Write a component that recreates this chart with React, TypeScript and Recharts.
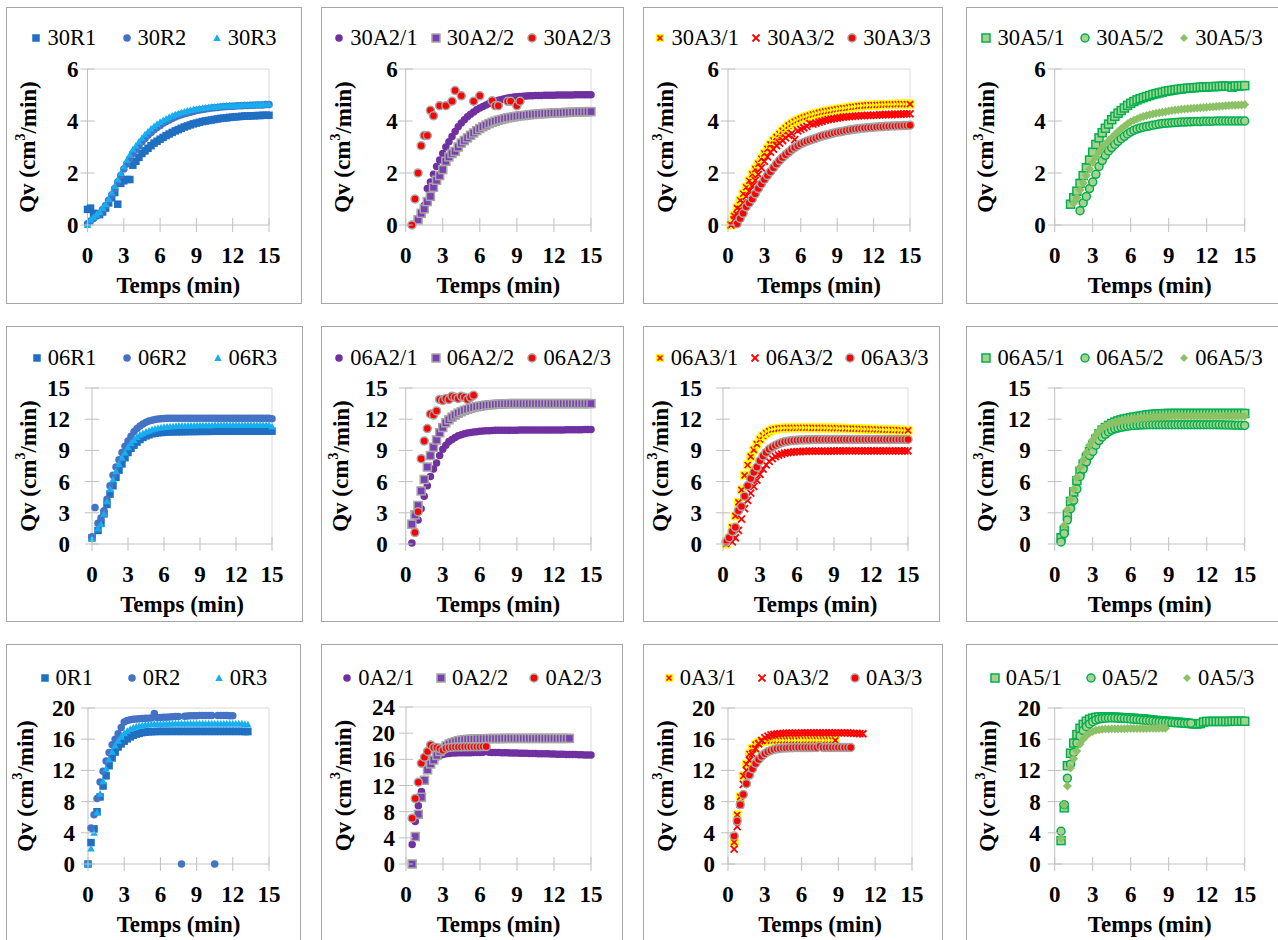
import React from 'react';
import { ScatterChart, Scatter, XAxis, YAxis, ReferenceLine } from 'recharts';

const FONT = '"Liberation Serif", "Times New Roman", serif';
const AXIS = '#bfbfbf';
const EDGE = '#d9d9d9';
const _ = null;

// sampling times (min), shared by every series; a series value at index i belongs to TIME[i]
const TIME = [
  0, 0.25, 0.5, 0.75, 1, 1.25, 1.5, 1.75, 2, 2.25, 2.5, 2.75, 3, 3.25, 3.5, 3.75,
  4, 4.25, 4.5, 4.75, 5, 5.25, 5.5, 5.75, 6, 6.25, 6.5, 6.75, 7, 7.25, 7.5, 7.75,
  8, 8.25, 8.5, 8.75, 9, 9.25, 9.5, 9.75, 10, 10.25, 10.5, 10.75, 11, 11.25, 11.5, 11.75,
  12, 12.25, 12.5, 12.75, 13, 13.25, 13.5, 13.75, 14, 14.25, 14.5, 14.75, 15,
];
const X_TICKS = [0, 3, 6, 9, 12, 15];
const Y_TICKS_6 = [0, 2, 4, 6];
const Y_TICKS_15 = [0, 3, 6, 9, 12, 15];
const Y_TICKS_20 = [0, 4, 8, 12, 16, 20];
const Y_TICKS_24 = [0, 4, 8, 12, 16, 20, 24];

// ---- row 1 : 30 ----
const q30R1 = [
  0.6, 0.65, 0.45, 0.4, 0.4, 0.5, 0.65, 0.85,
  1.05, 1.25, 0.8, 1.6, 1.7, 1.75, 1.75, 2.3,
  2.45, 2.6, 2.75, 2.85, 2.95, 3.05, 3.15, 3.22,
  3.3, 3.37, 3.44, 3.5, 3.56, 3.62, 3.67, 3.72,
  3.77, 3.81, 3.85, 3.89, 3.92, 3.95, 3.98, 4.0,
  4.02, 4.04, 4.06, 4.08, 4.1, 4.11, 4.12, 4.14,
  4.15, 4.16, 4.17, 4.18, 4.19, 4.19, 4.2, 4.2,
  4.21, 4.21, 4.22, 4.22, 4.22,
];
const q30R2 = [
  0.05, 0.15, 0.25, 0.35, 0.45, 0.6, 0.75, 0.95,
  1.15, 1.4, 1.65, 1.9, 2.15, 2.35, 2.55, 2.75,
  2.9, 3.05, 3.2, 3.33, 3.45, 3.56, 3.66, 3.75,
  3.83, 3.91, 3.98, 4.04, 4.1, 4.15, 4.2, 4.24,
  4.28, 4.31, 4.34, 4.37, 4.4, 4.42, 4.44, 4.46,
  4.48, 4.5, 4.51, 4.52, 4.54, 4.55, 4.56, 4.57,
  4.57, 4.58, 4.59, 4.59, 4.6, 4.6, 4.61, 4.61,
  4.62, 4.62, 4.62, 4.63, 4.63,
];
const q30R3 = [
  0, 0.2, 0.3, 0.4, 0.5, 0.65, 0.8, 1.0,
  1.25, 1.5, 1.75, 2.0, 2.25, 2.5, 2.7, 2.9,
  3.05, 3.2, 3.35, 3.48, 3.6, 3.7, 3.8, 3.88,
  3.96, 4.03, 4.09, 4.15, 4.2, 4.25, 4.29, 4.33,
  4.36, 4.39, 4.42, 4.44, 4.46, 4.48, 4.5, 4.51,
  4.53, 4.54, 4.55, 4.56, 4.57, 4.58, 4.59, 4.59,
  4.6, 4.6, 4.61, 4.61, 4.62, 4.62, 4.62, 4.63,
  4.63, 4.63, 4.64, 4.64, 4.64,
];
const q30A2_1 = [
  _, _, _, _, 0.2, 0.45, 0.75, 1.4,
  1.65, 1.95, 2.25, 2.5, 2.75, 3.0, 3.2, 3.4,
  3.6, 3.78, 3.92, 4.05, 4.16, 4.26, 4.35, 4.43,
  4.5, 4.56, 4.62, 4.67, 4.72, 4.76, 4.8, 4.83,
  4.86, 4.88, 4.9, 4.92, 4.93, 4.94, 4.95, 4.96,
  4.97, 4.97, 4.98, 4.98, 4.98, 4.99, 4.99, 4.99,
  4.99, 5.0, 5.0, 5.0, 5.0, 5.0, 5.0, 5.01,
  5.01, 5.01, 5.01, 5.01, 5.01,
];
const q30A2_2 = [
  _, _, _, _, 0.2, 0.45, 0.62, 0.9,
  1.1, 1.45, 1.72, 1.9, 2.13, 2.45, 2.62, 2.75,
  2.83, 3.0, 3.15, 3.25, 3.35, 3.45, 3.54, 3.63,
  3.71, 3.78, 3.84, 3.9, 3.95, 3.99, 4.03, 4.06,
  4.09, 4.12, 4.14, 4.16, 4.18, 4.2, 4.21, 4.22,
  4.24, 4.25, 4.26, 4.27, 4.28, 4.29, 4.29, 4.3,
  4.31, 4.31, 4.32, 4.32, 4.33, 4.33, 4.34, 4.34,
  4.35, 4.35, 4.35, 4.36, 4.36,
];
const q30A2_3 = [
  _, _, 0, 1.0, 2.0, 3.05, 3.44, 3.44,
  4.41, 4.2, _, 4.59, _, 4.59, _, 4.76,
  5.17, _, 4.97, _, _, _, 4.76, _,
  4.97, _, _, _, 4.78, 4.59, 4.59, _,
  _, 4.76, 4.76, _, 4.59, 4.76,
];
const q30A3_1 = [
  _, 0, 0.35, 0.65, 0.95, 1.2, 1.45, 1.7,
  1.95, 2.15, 2.35, 2.55, 2.75, 2.93, 3.1, 3.25,
  3.38, 3.5, 3.62, 3.72, 3.82, 3.9, 3.97, 4.03,
  4.08, 4.13, 4.17, 4.21, 4.25, 4.28, 4.31, 4.34,
  4.37, 4.39, 4.41, 4.43, 4.45, 4.47, 4.49, 4.5,
  4.52, 4.54, 4.55, 4.57, 4.58, 4.59, 4.6, 4.61,
  4.61, 4.62, 4.62, 4.63, 4.63, 4.64, 4.64, 4.64,
  4.65, 4.65, 4.65, 4.65, 4.65,
];
const q30A3_2 = [
  _, 0, 0.2, 0.4, 0.6, 0.85, 1.1, 1.3,
  1.5, 1.72, 1.95, 2.2, 2.45, 2.62, 2.8, 2.92,
  3.05, 3.15, 3.25, 3.35, 3.45, 3.52, 3.28, 3.62,
  3.68, 3.74, 3.79, 3.9, 3.88, 3.92, 3.96, 3.99,
  4.02, 4.05, 4.07, 4.09, 4.11, 4.13, 4.15, 4.16,
  4.17, 4.18, 4.19, 4.2, 4.21, 4.21, 4.22, 4.22,
  4.23, 4.23, 4.24, 4.24, 4.25, 4.25, 4.25, 4.26,
  4.26, 4.26, 4.27, 4.27, 4.27,
];
const q30A3_3 = [
  _, _, _, 0.05, 0.25, 0.45, 0.7, 0.85,
  1.0, 1.2, 1.4, 1.58, 1.75, 1.9, 2.05, 2.2,
  2.35, 2.48, 2.6, 2.7, 2.8, 2.9, 2.98, 3.05,
  3.12, 3.17, 3.22, 3.26, 3.3, 3.34, 3.38, 3.42,
  3.45, 3.48, 3.51, 3.54, 3.57, 3.59, 3.61, 3.63,
  3.65, 3.67, 3.69, 3.7, 3.72, 3.73, 3.74, 3.75,
  3.76, 3.77, 3.78, 3.78, 3.8, 3.8, 3.81, 3.81,
  3.82, 3.82, 3.83, 3.83, 3.84,
];
const q30A5_1 = [
  _, _, _, _, _, 0.8, 1.05, 1.3,
  1.6, 1.9, 2.2, 2.5, 2.8, 3.1, 3.35, 3.55,
  3.72, 3.88, 4.05, 4.18, 4.3, 4.4, 4.5, 4.6,
  4.68, 4.75, 4.81, 4.86, 4.9, 4.94, 4.98, 5.02,
  5.05, 5.08, 5.11, 5.14, 5.16, 5.18, 5.2, 5.22,
  5.23, 5.25, 5.26, 5.27, 5.28, 5.29, 5.3, 5.31,
  5.31, 5.32, 5.32, 5.33, 5.33, 5.34, 5.34, 5.34,
  5.3, 5.35, 5.35, 5.36, 5.36,
];
const q30A5_2 = [
  _, _, _, _, _, _, _, _,
  0.55, 0.85, 1.1, 1.4, 1.65, 1.95, 2.25, 2.48,
  2.68, 2.85, 2.98, 3.1, 3.22, 3.32, 3.41, 3.5,
  3.58, 3.64, 3.69, 3.73, 3.76, 3.79, 3.81, 3.84,
  3.86, 3.88, 3.9, 3.91, 3.92, 3.93, 3.94, 3.95,
  3.96, 3.96, 3.97, 3.97, 3.98, 3.98, 3.98, 3.99,
  3.99, 3.99, 3.99, 4.0, 4.0, 4.0, 4.0, 4.0,
  4.0, 4.0, 4.0, 4.0, 4.0,
];
const q30A5_3 = [
  _, _, _, _, _, _, 0.85, 1.05,
  1.35, 1.62, 1.9, 2.15, 2.4, 2.62, 2.82, 2.98,
  3.12, 3.24, 3.36, 3.48, 3.6, 3.7, 3.8, 3.89,
  3.97, 4.03, 4.08, 4.13, 4.17, 4.21, 4.24, 4.27,
  4.3, 4.32, 4.34, 4.36, 4.38, 4.4, 4.42, 4.43,
  4.45, 4.46, 4.47, 4.48, 4.49, 4.5, 4.51, 4.52,
  4.53, 4.54, 4.55, 4.56, 4.57, 4.58, 4.59, 4.6,
  4.61, 4.61, 4.62, 4.62, 4.63,
];

// ---- row 2 : 06 ----
const q06R1 = [
  0.6, _, 1.3, 2.0, 2.9, 3.8, 4.8, 5.6,
  6.4, 7.1, 7.7, 8.3, 8.8, 9.2, 9.5, 9.8,
  10.05, 10.25, 10.4, 10.5, 10.6, 10.65, 10.7, 10.72,
  10.75, 10.77, 10.78, 10.79, 10.8, 10.8, 10.8, 10.81,
  10.81, 10.82, 10.82, 10.82, 10.83, 10.83, 10.83, 10.83,
  10.84, 10.84, 10.84, 10.84, 10.84, 10.85, 10.85, 10.85,
  10.85, 10.85, 10.85, 10.85, 10.85, 10.85, 10.85, 10.85,
  10.85, 10.85, 10.85, 10.85, 10.85,
];
const q06R2 = [
  0.7, 3.5, 2.0, 2.5, 3.2, 4.3, 5.6, 6.6,
  7.4, 8.1, 8.8, 9.4, 9.9, 10.35, 10.8, 11.1,
  11.35, 11.55, 11.7, 11.82, 11.9, 11.97, 12.02, 12.05,
  12.07, 12.08, 12.08, 12.09, 12.09, 12.1, 12.1, 12.1,
  12.1, 12.1, 12.1, 12.1, 12.1, 12.1, 12.1, 12.1,
  12.1, 12.1, 12.1, 12.1, 12.1, 12.1, 12.1, 12.1,
  12.1, 12.1, 12.1, 12.1, 12.1, 12.1, 12.1, 12.1,
  12.1, 12.1, 12.1, 12.1, 12.05,
];
const q06R3 = [
  0.5, _, 1.5, 1.9, 2.9, 4.1, 5.3, 6.2,
  7.0, 7.7, 8.3, 8.8, 9.3, 9.7, 10.0, 10.3,
  10.5, 10.65, 10.8, 10.9, 11.0, 11.08, 11.15, 11.2,
  11.25, 11.28, 11.3, 11.33, 11.35, 11.36, 11.37, 11.38,
  11.4, 11.4, 11.4, 11.41, 11.42, 11.42, 11.43, 11.43,
  11.43, 11.44, 11.44, 11.44, 11.44, 11.45, 11.45, 11.45,
  11.45, 11.45, 11.45, 11.45, 11.45, 11.45, 11.45, 11.45,
  11.45, 11.45, 11.45, 11.45, 11.3,
];
const q06A2_1 = [
  _, _, 0.1, 1.2, 2.3, 3.4, 4.6, 5.6,
  6.5, 7.2, 7.8, 8.5, 9.1, 9.5, 9.85, 10.05,
  10.25, 10.4, 10.5, 10.6, 10.67, 10.72, 10.77, 10.8,
  10.83, 10.86, 10.88, 10.9, 10.92, 10.93, 10.93, 10.93,
  10.94, 10.94, 10.94, 10.94, 10.94, 10.95, 10.95, 10.95,
  10.95, 10.95, 10.95, 10.95, 10.96, 10.96, 10.96, 10.96,
  10.96, 10.97, 10.97, 10.97, 10.98, 10.98, 10.98, 10.98,
  10.99, 10.99, 11.0, 11.0, 11.0,
];
const q06A2_2 = [
  _, _, 1.9, 2.8, 3.7, 5.1, 6.2, 7.4,
  8.5, 9.3, 10.0, 10.7, 11.2, 11.65, 11.95, 12.2,
  12.4, 12.58, 12.72, 12.85, 12.95, 13.05, 13.13, 13.2,
  13.25, 13.3, 13.35, 13.38, 13.4, 13.43, 13.45, 13.47,
  13.48, 13.49, 13.5, 13.5, 13.5, 13.5, 13.5, 13.5,
  13.5, 13.5, 13.5, 13.5, 13.5, 13.5, 13.5, 13.5,
  13.5, 13.5, 13.5, 13.5, 13.5, 13.5, 13.5, 13.5,
  13.5, 13.5, 13.5, 13.5, 13.5,
];
const q06A2_3 = [
  _, _, _, 1.1, 3.1, 8.2, 9.9, 11.1,
  12.5, 12.4, 12.8, 13.9, 13.8, 14.0, 13.9, 14.2,
  14.1, 14.0, 14.2, 14.1, 13.9, 14.1, 14.3,
];
const q06A3_1 = [
  _, 0, 0.6, 1.6, 2.7, 4.0, 5.2, 6.6,
  7.6, 8.4, 9.05, 9.6, 10.05, 10.4, 10.65, 10.85,
  10.98, 11.05, 11.1, 11.13, 11.15, 11.16, 11.17, 11.17,
  11.18, 11.18, 11.18, 11.18, 11.18, 11.17, 11.17, 11.17,
  11.16, 11.16, 11.15, 11.15, 11.14, 11.14, 11.13, 11.12,
  11.12, 11.11, 11.1, 11.09, 11.08, 11.07, 11.06, 11.05,
  11.04, 11.03, 11.02, 11.01, 11.0, 10.99, 10.98, 10.97,
  10.96, 10.95, 10.94, 10.93, 10.92,
];
const q06A3_2 = [
  _, _, _, 0.2, 0.6, 1.3, 2.4, 3.4,
  4.2, 4.9, 5.55, 6.15, 6.7, 7.2, 7.6, 7.95,
  8.2, 8.4, 8.55, 8.65, 8.73, 8.78, 8.82, 8.85,
  8.88, 8.89, 8.9, 8.91, 8.92, 8.92, 8.93, 8.93,
  8.94, 8.94, 8.94, 8.94, 8.95, 8.95, 8.95, 8.95,
  8.95, 8.95, 8.95, 8.95, 8.95, 8.95, 8.95, 8.95,
  8.95, 8.95, 8.95, 8.95, 8.95, 8.95, 8.95, 8.95,
  8.95, 8.95, 8.95, 8.95, 8.95,
];
const q06A3_3 = [
  _, 0.2, 0.6, 1.2, 1.6, 3.2, 3.6, 4.6,
  5.6, 6.3, 6.9, 7.4, 8.0, 8.45, 8.8, 9.1,
  9.3, 9.48, 9.62, 9.73, 9.82, 9.88, 9.93, 9.96,
  9.98, 10.0, 10.01, 10.02, 10.03, 10.03, 10.04, 10.04,
  10.05, 10.05, 10.05, 10.05, 10.05, 10.05, 10.05, 10.05,
  10.05, 10.05, 10.05, 10.05, 10.05, 10.05, 10.05, 10.05,
  10.05, 10.05, 10.05, 10.05, 10.05, 10.05, 10.05, 10.05,
  10.05, 10.05, 10.05, 10.05, 10.05,
];
const q06A5_1 = [
  _, _, 0.6, 1.3, 2.8, 4.1, 5.0, 6.1,
  7.0, 7.7, 8.3, 8.9, 9.5, 10.1, 10.6, 10.95,
  11.2, 11.4, 11.58, 11.72, 11.84, 11.94, 12.02, 12.08,
  12.14, 12.2, 12.25, 12.3, 12.35, 12.4, 12.44, 12.47,
  12.5, 12.52, 12.53, 12.54, 12.55, 12.55, 12.55, 12.55,
  12.55, 12.55, 12.55, 12.55, 12.55, 12.55, 12.55, 12.55,
  12.55, 12.55, 12.55, 12.55, 12.55, 12.55, 12.55, 12.55,
  12.55, 12.55, 12.55, 12.55, 12.55,
];
const q06A5_2 = [
  _, _, 0.2, 1.0, 2.3, 3.4, 4.2, 5.3,
  6.5, 7.2, 7.9, 8.5, 8.9, 9.5, 9.95, 10.3,
  10.55, 10.78, 10.95, 11.07, 11.15, 11.22, 11.28, 11.33,
  11.37, 11.4, 11.42, 11.44, 11.45, 11.46, 11.47, 11.47,
  11.47, 11.47, 11.47, 11.47, 11.47, 11.47, 11.47, 11.47,
  11.47, 11.47, 11.47, 11.47, 11.47, 11.47, 11.47, 11.47,
  11.47, 11.47, 11.47, 11.47, 11.46, 11.46, 11.45, 11.45,
  11.44, 11.43, 11.42, 11.41, 11.4,
];
const q06A5_3 = [
  _, _, _, 1.8, 3.3, 4.3, 5.3, 6.4,
  7.4, 8.1, 8.8, 9.5, 10.0, 10.5, 10.9, 11.15,
  11.35, 11.5, 11.6, 11.7, 11.78, 11.84, 11.9, 11.94,
  11.98, 12.02, 12.05, 12.08, 12.11, 12.14, 12.16, 12.18,
  12.2, 12.22, 12.24, 12.25, 12.27, 12.28, 12.28, 12.28,
  12.28, 12.28, 12.28, 12.28, 12.28, 12.28, 12.28, 12.28,
  12.28, 12.28, 12.28, 12.28, 12.28, 12.28, 12.28, 12.28,
  12.28, 12.28, 12.28, 12.28, 12.28,
];

// ---- row 3 : 0 ----
const q0R1 = [
  0, 2.75, 4.5, 6.7, 8.6, 10.0, 11.3, 12.6,
  13.6, 14.35, 15.0, 15.4, 15.75, 16.05, 16.3, 16.5,
  16.65, 16.75, 16.85, 16.9, 16.95, 16.97, 16.98, 17.0,
  17.0, 17.0, 17.0, 17.0, 17.0, 17.0, 17.0, 17.0,
  17.0, 17.0, 17.0, 17.0, 17.0, 17.0, 17.0, 17.0,
  17.0, 17.0, 17.0, 17.0, 17.0, 17.0, 17.0, 17.0,
  17.0, 17.0, 17.0, 17.0, 16.98, 16.97,
];
const q0R2 = [
  0, 4.6, 6.3, 8.4, 10.5, 11.9, 13.2, 14.3,
  15.3, 16.0, 16.7, 17.5, 18.2, 18.4, 18.5, 18.55,
  18.6, 18.62, 18.65, 18.68, 18.7, 18.72, 19.3, 18.75,
  18.78, 18.8, 18.82, 18.85, 18.88, 18.9, 18.92, 0,
  18.95, 18.97, 19.0, 19.0, 19.02, 19.03, 19.04, 19.05,
  19.05, 19.05, 0, 19.05, 19.05, 19.04, 19.03, 19.02,
  19.0,
];
const q0R3 = [
  0, 2.0, 4.0, 6.6, 9.0, 10.6, 12.2, 13.4,
  14.4, 15.2, 15.8, 16.3, 16.75, 17.05, 17.3, 17.5,
  17.62, 17.72, 17.8, 17.85, 17.9, 17.92, 17.94, 17.95,
  17.96, 17.97, 17.98, 17.98, 18.0, 18.0, 18.0, 18.0,
  18.0, 18.0, 18.0, 18.0, 18.0, 18.0, 18.0, 18.0,
  18.0, 18.0, 18.0, 18.0, 18.0, 18.0, 18.0, 18.0,
  18.0, 18.0, 18.0, 18.0, 17.95, 17.9,
];
const q0A2_1 = [
  _, _, 3.0, 6.5, 8.9, 11.1, 12.9, 14.3,
  15.3, 15.9, 16.3, 16.6, 16.75, 16.85, 16.9, 16.95,
  16.97, 17.0, 17.0, 17.0, 17.0, 17.02, 17.03, 17.04,
  17.05, 17.1, 17.2, 17.1, 17.05, 17.04, 17.03, 17.02,
  17.0, 16.99, 16.98, 16.97, 16.95, 16.94, 16.93, 16.92,
  16.9, 16.89, 16.88, 16.87, 16.86, 16.85, 16.84, 16.83,
  16.8, 16.79, 16.78, 16.77, 16.75, 16.74, 16.73, 16.72,
  16.7, 16.69, 16.68, 16.67, 16.65,
];
const q0A2_2 = [
  _, _, 0, 4.2, 7.6, 10.2, 12.8, 14.4,
  15.3, 15.9, 16.6, 17.2, 17.7, 18.05, 18.35, 18.55,
  18.7, 18.85, 18.93, 19.0, 19.05, 19.08, 19.1, 19.12,
  19.14, 19.15, 19.16, 19.17, 19.18, 19.18, 19.18, 19.18,
  19.2, 19.2, 19.2, 19.2, 19.2, 19.2, 19.2, 19.2,
  19.2, 19.2, 19.2, 19.2, 19.2, 19.2, 19.2, 19.2,
  19.2, 19.2, 19.2, 19.2, 19.2, 19.2,
];
const q0A2_3 = [
  _, _, 7.0, 10.0, 12.5, 15.4, 16.3, 17.2,
  18.2, 17.8, 17.8, 17.6, 17.4, 17.7, 17.8, 17.85,
  17.9, 17.9, 17.9, 17.92, 17.92, 17.93, 17.93, 17.94,
  17.94, 17.95, 17.95,
];
const q0A3_1 = [
  _, _, 2.8, 6.3, 8.6, 11.3, 12.8, 14.1,
  14.8, 15.3, 15.55, 15.7, 15.75, 15.8, 15.82, 15.84,
  15.85, 15.85, 15.85, 15.85, 15.85, 15.85, 15.85, 15.85,
  15.86, 15.86, 15.86, 15.86, 15.86, 15.86, 15.86, 15.86,
  15.86, 15.86, 15.86, 15.85,
];
const q0A3_2 = [
  _, _, 1.9, 4.8, 7.6, 10.2, 12.0, 13.3,
  14.1, 14.8, 15.4, 15.85, 16.2, 16.4, 16.55, 16.62,
  16.68, 16.72, 16.75, 16.77, 16.78, 16.78, 16.78, 16.78,
  16.8, 16.8, 16.8, 16.8, 16.8, 16.8, 16.8, 16.8,
  16.8, 16.8, 16.8, 16.8, 16.8, 16.8, 16.8, 16.8,
  16.78, 16.76, 16.74, 16.72, 16.7,
];
const q0A3_3 = [
  _, _, 3.6, 5.5, 7.6, 8.9, 10.3, 11.4,
  12.2, 12.9, 13.4, 13.8, 14.15, 14.4, 14.55, 14.68,
  14.76, 14.82, 14.86, 14.88, 14.9, 14.91, 14.92, 14.92,
  14.93, 14.93, 14.93, 14.93, 14.94, 14.94, 15.1, 14.94,
  14.94, 14.94, 14.94, 14.94, 14.94, 14.94, 14.94, 14.94,
  14.94,
];
const q0A5_1 = [
  _, _, 3.0, 7.2, 12.6, 14.2, 15.5, 16.6,
  17.4, 17.9, 18.3, 18.55, 18.7, 18.8, 18.85, 18.85,
  18.85, 18.85, 18.85, 18.83, 18.8, 18.78, 18.75, 18.72,
  18.7, 18.68, 18.65, 18.62, 18.6, 18.55, 18.5, 18.45,
  18.4, 18.38, 18.35, 18.3, 18.28, 18.25, 18.2, 18.18,
  18.15, 18.1, 18.05, 18.0, 17.95, 17.95, 18.0, 18.2,
  18.28, 18.28, 18.28, 18.28, 18.28, 18.28, 18.28, 18.28,
  18.3, 18.3, 18.3, 18.3, 18.3,
];
const q0A5_2 = [
  _, _, 4.2, 7.6, 11.0, 12.8, 14.3, 15.5,
  16.4, 17.1, 17.6, 17.95, 18.25, 18.45, 18.58, 18.65,
  18.7, 18.72, 18.72, 18.72, 18.7, 18.68, 18.65, 18.62,
  18.6, 18.56, 18.52, 18.48, 18.44, 18.4, 18.36, 18.32,
  18.28, 18.25, 18.22, 18.19, 18.16, 18.13, 18.1, 18.08,
  18.07, 18.06, 18.06, 18.05,
];
const q0A5_3 = [
  _, _, 3.3, 7.6, 10.0, 12.3, 13.5, 14.5,
  15.4, 16.0, 16.45, 16.78, 17.0, 17.15, 17.22, 17.27,
  17.3, 17.32, 17.33, 17.34, 17.34, 17.35, 17.35, 17.36,
  17.36, 17.37, 17.37, 17.38, 17.38, 17.38, 17.39, 17.39,
  17.4, 17.4, 17.4, 17.4,
];

type Mark = { kind: string; fill: string; stroke?: string; sw?: number; size: number };

const MK: Record<string, Mark> = {
  rSquare: { kind: 'square', fill: '#1f6fc2', size: 7.5 },
  rCircle: { kind: 'circle', fill: '#4472c4', size: 7.5 },
  rTriangle: { kind: 'triangle', fill: '#17aef0', size: 7.5 },
  purpleDot: { kind: 'circle', fill: '#7030a0', size: 7.5 },
  purpleSquare: { kind: 'square', fill: '#7a3fb0', stroke: '#a6a6a6', sw: 1.5, size: 8 },
  redDot: { kind: 'circle', fill: '#ff0000', stroke: '#a6a6a6', sw: 1.5, size: 8 },
  yellowX: { kind: 'xsquare', fill: '#ffff00', stroke: '#ff0000', size: 9 },
  redX: { kind: 'cross', fill: 'none', stroke: '#ff0000', size: 7 },
  greenSquare: { kind: 'square', fill: '#a9d18e', stroke: '#00b050', sw: 1.5, size: 8 },
  greenCircle: { kind: 'circle', fill: '#a9d18e', stroke: '#00b050', sw: 1.5, size: 8 },
  greenDiamond: { kind: 'diamond', fill: '#8cc265', size: 9 },
};

function Marker({ cx, cy, m }: { cx: number; cy: number; m: Mark }) {
  if (cx == null || cy == null) return null;
  const r = m.size / 2;
  const stroke = m.stroke || 'none';
  const sw = m.sw || 0;
  switch (m.kind) {
    case 'square':
      return <rect x={cx - r} y={cy - r} width={m.size} height={m.size} fill={m.fill} stroke={stroke} strokeWidth={sw} />;
    case 'circle':
      return <circle cx={cx} cy={cy} r={r} fill={m.fill} stroke={stroke} strokeWidth={sw} />;
    case 'triangle':
      return <polygon points={`${cx},${cy - r} ${cx + r},${cy + r * 0.8} ${cx - r},${cy + r * 0.8}`} fill={m.fill} />;
    case 'diamond':
      return <polygon points={`${cx},${cy - r} ${cx + r},${cy} ${cx},${cy + r} ${cx - r},${cy}`} fill={m.fill} />;
    case 'cross':
      return (
        <g stroke={m.stroke} strokeWidth={1.8}>
          <line x1={cx - r} y1={cy - r} x2={cx + r} y2={cy + r} />
          <line x1={cx - r} y1={cy + r} x2={cx + r} y2={cy - r} />
        </g>
      );
    case 'xsquare':
      return (
        <g>
          <rect x={cx - r} y={cy - r} width={m.size} height={m.size} fill={m.fill} />
          <g stroke={m.stroke} strokeWidth={1.6}>
            <line x1={cx - r + 1.5} y1={cy - r + 1.5} x2={cx + r - 1.5} y2={cy + r - 1.5} />
            <line x1={cx - r + 1.5} y1={cy + r - 1.5} x2={cx + r - 1.5} y2={cy - r + 1.5} />
          </g>
        </g>
      );
    default:
      return null;
  }
}

const toPoints = (values: (number | null)[]) =>
  values
    .map((q, i) => (q == null ? null : { t: TIME[i], q }))
    .filter((p) => p !== null);

type Series = { name: string; values: (number | null)[]; mk: Mark };
type PanelDef = {
  box: number[]; // left, top, right, bottom (page px)
  plot: number[]; // left, right, top, bottom (page px)
  yMax: number;
  yTicks: number[];
  tickGap: number;
  titleOff: number;
  legendY: number;
  series: Series[];
};

// the last column and the last row run past the picture edge, as in the source
const PANELS: PanelDef[] = [
  { box: [6, 7, 302, 304], plot: [87.5, 269, 69, 225], yMax: 6, yTicks: Y_TICKS_6, tickGap: 9, titleOff: 60, legendY: 31,
    series: [
      { name: '30R1', values: q30R1, mk: MK.rSquare },
      { name: '30R2', values: q30R2, mk: MK.rCircle },
      { name: '30R3', values: q30R3, mk: MK.rTriangle },
    ] },
  { box: [321, 7, 624, 304], plot: [405.7, 591, 69, 225], yMax: 6, yTicks: Y_TICKS_6, tickGap: 8, titleOff: 63, legendY: 31,
    series: [
      { name: '30A2/1', values: q30A2_1, mk: MK.purpleDot },
      { name: '30A2/2', values: q30A2_2, mk: MK.purpleSquare },
      { name: '30A2/3', values: q30A2_3, mk: MK.redDot },
    ] },
  { box: [643, 7, 943, 304], plot: [728, 910, 69, 225], yMax: 6, yTicks: Y_TICKS_6, tickGap: 9, titleOff: 63, legendY: 31,
    series: [
      { name: '30A3/1', values: q30A3_1, mk: MK.yellowX },
      { name: '30A3/2', values: q30A3_2, mk: MK.redX },
      { name: '30A3/3', values: q30A3_3, mk: MK.redDot },
    ] },
  { box: [966, 7, 1281, 304], plot: [1054.7, 1244.7, 69, 225], yMax: 6, yTicks: Y_TICKS_6, tickGap: 9, titleOff: 69, legendY: 31,
    series: [
      { name: '30A5/1', values: q30A5_1, mk: MK.greenSquare },
      { name: '30A5/2', values: q30A5_2, mk: MK.greenCircle },
      { name: '30A5/3', values: q30A5_3, mk: MK.greenDiamond },
    ] },
  { box: [6, 326, 303, 622], plot: [92, 272, 388, 544], yMax: 15, yTicks: Y_TICKS_15, tickGap: 22, titleOff: 64, legendY: 32,
    series: [
      { name: '06R1', values: q06R1, mk: MK.rSquare },
      { name: '06R2', values: q06R2, mk: MK.rCircle },
      { name: '06R3', values: q06R3, mk: MK.rTriangle },
    ] },
  { box: [321, 326, 624, 622], plot: [405.7, 591, 388, 544], yMax: 15, yTicks: Y_TICKS_15, tickGap: 18, titleOff: 65, legendY: 32,
    series: [
      { name: '06A2/1', values: q06A2_1, mk: MK.purpleDot },
      { name: '06A2/2', values: q06A2_2, mk: MK.purpleSquare },
      { name: '06A2/3', values: q06A2_3, mk: MK.redDot },
    ] },
  { box: [643, 326, 940, 622], plot: [723, 908, 388, 544], yMax: 15, yTicks: Y_TICKS_15, tickGap: 21, titleOff: 63, legendY: 32,
    series: [
      { name: '06A3/1', values: q06A3_1, mk: MK.yellowX },
      { name: '06A3/2', values: q06A3_2, mk: MK.redX },
      { name: '06A3/3', values: q06A3_3, mk: MK.redDot },
    ] },
  { box: [966, 326, 1281, 622], plot: [1054.7, 1244.7, 388, 544], yMax: 15, yTicks: Y_TICKS_15, tickGap: 24, titleOff: 69, legendY: 32,
    series: [
      { name: '06A5/1', values: q06A5_1, mk: MK.greenSquare },
      { name: '06A5/2', values: q06A5_2, mk: MK.greenCircle },
      { name: '06A5/3', values: q06A5_3, mk: MK.greenDiamond },
    ] },
  { box: [6, 644, 301, 945], plot: [88, 269, 708, 864], yMax: 20, yTicks: Y_TICKS_20, tickGap: 13, titleOff: 63, legendY: 34,
    series: [
      { name: '0R1', values: q0R1, mk: MK.rSquare },
      { name: '0R2', values: q0R2, mk: MK.rCircle },
      { name: '0R3', values: q0R3, mk: MK.rTriangle },
    ] },
  { box: [321, 644, 623, 945], plot: [406, 591, 707, 864], yMax: 24, yTicks: Y_TICKS_24, tickGap: 11, titleOff: 63, legendY: 34,
    series: [
      { name: '0A2/1', values: q0A2_1, mk: MK.purpleDot },
      { name: '0A2/2', values: q0A2_2, mk: MK.purpleSquare },
      { name: '0A2/3', values: q0A2_3, mk: MK.redDot },
    ] },
  { box: [643, 644, 943, 945], plot: [728, 912, 708, 864], yMax: 20, yTicks: Y_TICKS_20, tickGap: 13, titleOff: 63, legendY: 34,
    series: [
      { name: '0A3/1', values: q0A3_1, mk: MK.yellowX },
      { name: '0A3/2', values: q0A3_2, mk: MK.redX },
      { name: '0A3/3', values: q0A3_3, mk: MK.redDot },
    ] },
  { box: [966, 644, 1281, 945], plot: [1054.7, 1244.7, 708, 864], yMax: 20, yTicks: Y_TICKS_20, tickGap: 14, titleOff: 67, legendY: 34,
    series: [
      { name: '0A5/1', values: q0A5_1, mk: MK.greenSquare },
      { name: '0A5/2', values: q0A5_2, mk: MK.greenCircle },
      { name: '0A5/3', values: q0A5_3, mk: MK.greenDiamond },
    ] },
];

const boldText = { fontFamily: FONT, fontWeight: 'bold' as const, fontSize: 23, fill: '#000' };

function Panel({ p }: { p: PanelDef }) {
  const [bl, bt, br, bb] = p.box;
  const w = br - bl;
  const h = bb - bt;
  const xAxisH = 30;
  const yAxisW = 30;
  const pl = p.plot[0] - bl;
  const pr = p.plot[1] - bl;
  const pt = p.plot[2] - bt;
  const pb = p.plot[3] - bt;
  const margin = { top: pt, right: w - pr, bottom: h - pb - xAxisH, left: pl - yAxisW };

  const xTick = (props: any) => {
    const { x, y, payload } = props;
    return (
      <g>
        <line x1={x} x2={x} y1={y - 7} y2={y + 7} stroke={AXIS} />
        <text x={x} y={y + 38} textAnchor="middle" {...boldText}>{payload.value}</text>
      </g>
    );
  };
  const yTick = (props: any) => {
    const { x, y, payload } = props;
    return (
      <g>
        <line x1={x - 7} x2={x + 7} y1={y} y2={y} stroke={AXIS} />
        <text x={x - p.tickGap} y={y + 8} textAnchor="end" {...boldText}>{payload.value}</text>
      </g>
    );
  };
  const xTitle = () => (
    <text x={(pl + pr) / 2} y={pb + 68} textAnchor="middle" {...boldText}>Temps (min)</text>
  );
  const yTitle = () => (
    <text
      transform={`translate(${pl - p.titleOff},${(pt + pb) / 2}) rotate(-90)`}
      textAnchor="middle"
      dominantBaseline="central"
      {...boldText}
    >
      Qv (cm<tspan dy={-8} fontSize={14}>3</tspan>
      <tspan dy={8}>/min)</tspan>
    </text>
  );

  return (
    <div style={{ position: 'absolute', left: bl, top: bt, width: w, height: h }}>
      <div style={{ position: 'absolute', left: 0, top: 0, width: w, height: h, border: '1px solid #a6a6a6', boxSizing: 'border-box' }} />
      <div
        style={{
          position: 'absolute', left: 0, top: p.legendY - 12, width: Math.min(w, 1278 - bl), height: 24,
          display: 'flex', justifyContent: 'space-evenly', alignItems: 'center',
          fontFamily: FONT, fontSize: 22.5, lineHeight: '24px', whiteSpace: 'nowrap', color: '#000',
        }}
      >
        {p.series.map((s) => (
          <div key={s.name} style={{ display: 'flex', alignItems: 'center' }}>
            <svg width={10} height={10} style={{ display: 'block' }}>
              <Marker cx={5} cy={5} m={{ ...s.mk, size: Math.min(s.mk.size, 8) }} />
            </svg>
            <span style={{ marginLeft: 6 }}>{s.name}</span>
          </div>
        ))}
      </div>
      <div style={{ position: 'absolute', left: 0, top: 0 }}>
        <ScatterChart width={w} height={h} margin={margin}>
          <XAxis
            type="number"
            dataKey="t"
            domain={[0, 15]}
            ticks={X_TICKS}
            interval={0}
            height={xAxisH}
            axisLine={{ stroke: AXIS }}
            tickLine={false}
            tickSize={0}
            tickMargin={0}
            tick={xTick}
            label={{ content: xTitle }}
          />
          <YAxis
            type="number"
            dataKey="q"
            domain={[0, p.yMax]}
            ticks={p.yTicks}
            interval={0}
            width={yAxisW}
            axisLine={{ stroke: AXIS }}
            tickLine={false}
            tickSize={0}
            tickMargin={0}
            tick={yTick}
            label={{ content: yTitle }}
          />
          <ReferenceLine y={p.yMax} stroke={EDGE} />
          <ReferenceLine x={15} stroke={EDGE} />
          {p.series.map((s) => (
            <Scatter
              key={s.name}
              name={s.name}
              data={toPoints(s.values)}
              isAnimationActive={false}
              shape={(props: any) => <Marker cx={props.cx} cy={props.cy} m={s.mk} />}
            />
          ))}
        </ScatterChart>
      </div>
    </div>
  );
}

export default function App() {
  return (
    <div style={{ position: 'absolute', left: 0, top: 0, width: 1278, height: 940, overflow: 'hidden', background: '#fff' }}>
      {PANELS.map((p, i) => (
        <Panel key={i} p={p} />
      ))}
    </div>
  );
}
